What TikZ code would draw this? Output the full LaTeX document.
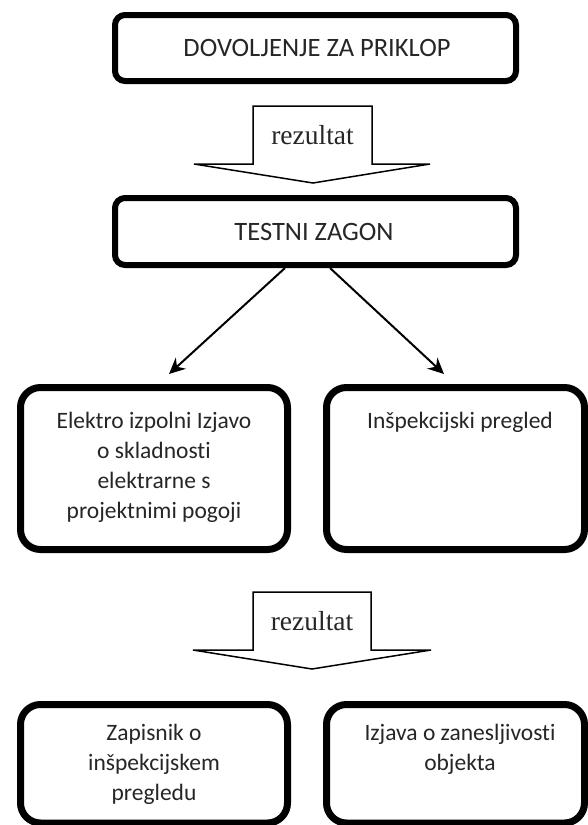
\documentclass[tikz,border=0pt]{standalone}
\usepackage{fontspec}
\setmainfont[Ligatures=NoCommon]{Carlito}
\newfontfamily\serifrez{Liberation Serif}
\usetikzlibrary{arrows.meta,calc}
\tikzset{
  topbox/.style={draw=black, line width=6pt, rounded corners=10pt, fill=white, inner sep=0pt},
  lowbox/.style={draw=black, line width=7pt, rounded corners=20pt, fill=white, inner sep=0pt},
  toptext/.style={font=\fontsize{26.5}{32}\selectfont, text=black!85, inner sep=0pt},
  lowtext/.style={font=\fontsize{23.5}{30}\selectfont, text=black!85, align=center, inner sep=0pt},
  reztext/.style={font=\serifrez\fontsize{27.5}{32}\selectfont, text=black!85, inner sep=0pt},
  blockarrow/.style={draw=black, line width=1.5pt, fill=white, line join=miter},
  conn/.style={draw=black, line width=2pt, -{Stealth[length=16pt,width=15pt]}}
}
\begin{document}
\begin{tikzpicture}[x=1pt,y=-1pt]
\useasboundingbox (0,0) rectangle (588,825);
% top boxes
\node[topbox, minimum width=401pt, minimum height=66pt] (b1) at (315.5,48) {};
\node[toptext] (t1) at (317,48) {DOVOLJENJE ZA PRIKLOP};
% block arrow 1
\draw[blockarrow] (253,106) -- (372,106) -- (372,164) -- (430,164) -- (313,183) -- (194,164) -- (253,164) -- cycle;
\node[reztext] (r1) at (312.5,135) {rezultat};
\node[topbox, minimum width=401pt, minimum height=67pt] (b2) at (315.5,231.5) {};
\node[toptext] (t2) at (314,231.5) {TESTNI ZAGON};
% arrow end points
\coordinate (tipL) at (169,374);
\coordinate (tipR) at (444,374);
\draw[conn] ([xshift=-30.5pt]b2.south) -- (tipL);
\draw[conn] ([xshift=14.5pt]b2.south) -- (tipR);
% middle boxes
\node[lowbox, minimum width=267pt, minimum height=162pt] (m1) at (154,468.5) {};
\node[lowtext] (mt1) at (154,467) {Elektro izpolni Izjavo\\o skladnosti\\elektrarne s\\projektnimi pogoji};
\node[lowbox, minimum width=258pt, minimum height=162pt] (m2) at (455.5,468.5) {};
\node[lowtext] (mt2) at (460,422) {Inšpekcijski pregled};
% block arrow 2
\draw[blockarrow] (253,592) -- (371,592) -- (371,650) -- (431,650) -- (312,669) -- (193,650) -- (253,650) -- cycle;
\node[reztext] (r2) at (312,621) {rezultat};
% bottom boxes
\node[lowbox, minimum width=267pt, minimum height=118.5pt] (l1) at (154,763.75) {};
\node[lowtext] (lt1) at (154,764) {Zapisnik o\\inšpekcijskem\\pregledu};
\node[lowbox, minimum width=258pt, minimum height=118.5pt] (l2) at (455.5,763.75) {};
\node[lowtext] (lt2) at (460,749.5) {Izjava o zanesljivosti\\objekta};
\end{tikzpicture}
\end{document}
